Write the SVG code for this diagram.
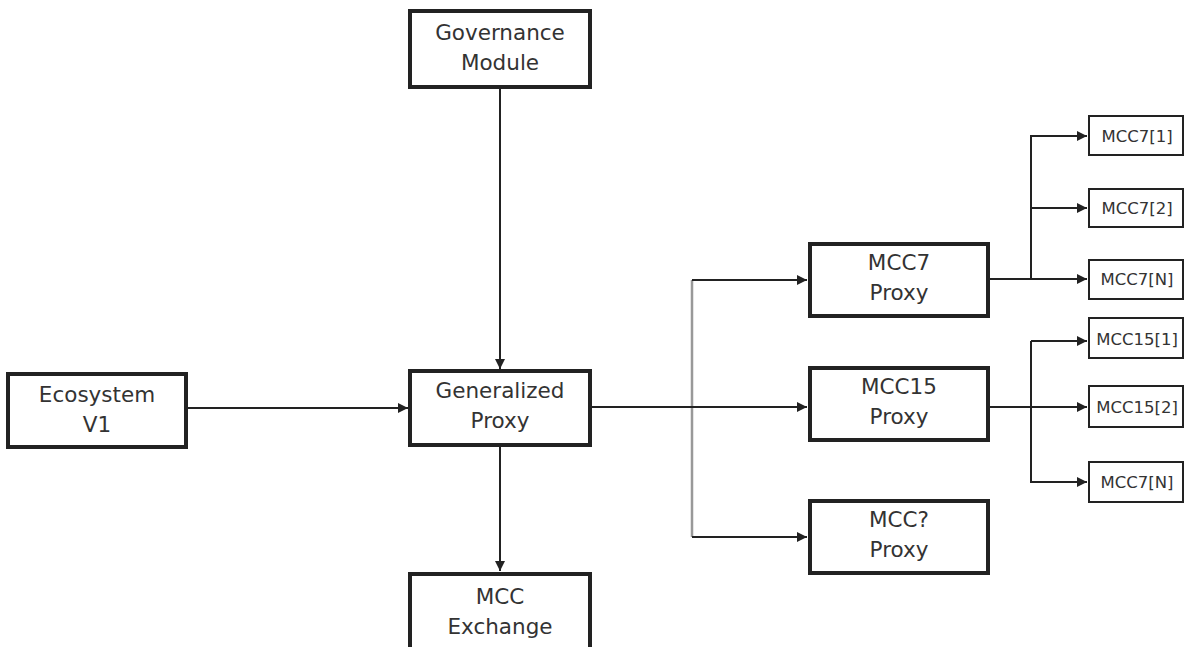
<svg xmlns="http://www.w3.org/2000/svg" width="1186" height="647" viewBox="0 0 1186 647">
<style>
.big{fill:#fff;stroke:#222;stroke-width:4}
.small{fill:#fff;stroke:#222;stroke-width:2}
.t{font-family:"DejaVu Sans",sans-serif;fill:#333;text-anchor:middle}
.tb{font-size:21.5px}
.ts{font-size:16.5px}
.c{fill:none;stroke:#222;stroke-width:2}
.g{fill:none;stroke:#999;stroke-width:2.5}
</style>
<defs>
<marker id="ah" viewBox="0 0 10 10" refX="10" refY="5" markerWidth="12" markerHeight="10" markerUnits="userSpaceOnUse" orient="auto">
<path d="M0,0 L10,5 L0,10 z" fill="#222"/>
</marker>
</defs>
<rect width="1186" height="647" fill="#fff"/>
<g id="connectors">
<path class="c" d="M500,88 V369" marker-end="url(#ah)"/>
<path class="c" d="M188,408 H408" marker-end="url(#ah)"/>
<path class="c" d="M500,446 V571" marker-end="url(#ah)"/>
<path class="g" d="M692,280 V537"/>
<path class="c" d="M692,280 H807" marker-end="url(#ah)"/>
<path class="c" d="M692,537 H807" marker-end="url(#ah)"/>
<path class="c" d="M592,407 H807" marker-end="url(#ah)"/>
<path class="c" d="M990,279 H1087" marker-end="url(#ah)"/>
<path class="c" d="M1031,279 V136 H1087" marker-end="url(#ah)"/>
<path class="c" d="M1031,208 H1087" marker-end="url(#ah)"/>
<path class="c" d="M990,407 H1087" marker-end="url(#ah)"/>
<path class="c" d="M1031,341 V482 H1087" marker-end="url(#ah)"/>
<path class="c" d="M1031,341 H1087" marker-end="url(#ah)"/>
</g>
<g id="governance">
<rect class="big" x="410" y="11" width="180" height="76"/>
<text class="t tb" x="500" y="40">Governance</text>
<text class="t tb" x="500" y="70">Module</text>
</g>
<g id="ecosystem">
<rect class="big" x="8" y="374" width="178" height="73"/>
<text class="t tb" x="97" y="402">Ecosystem</text>
<text class="t tb" x="97" y="432">V1</text>
</g>
<g id="generalized">
<rect class="big" x="410" y="371" width="180" height="74"/>
<text class="t tb" x="500" y="398">Generalized</text>
<text class="t tb" x="500" y="428">Proxy</text>
</g>
<g id="exchange">
<rect class="big" x="410" y="574" width="180" height="80"/>
<text class="t tb" x="500" y="604">MCC</text>
<text class="t tb" x="500" y="634">Exchange</text>
</g>
<g id="mcc7proxy">
<rect class="big" x="810" y="244" width="178" height="72"/>
<text class="t tb" x="899" y="270">MCC7</text>
<text class="t tb" x="899" y="300">Proxy</text>
</g>
<g id="mcc15proxy">
<rect class="big" x="810" y="368" width="178" height="72"/>
<text class="t tb" x="899" y="394">MCC15</text>
<text class="t tb" x="899" y="424">Proxy</text>
</g>
<g id="mccqproxy">
<rect class="big" x="810" y="501" width="178" height="72"/>
<text class="t tb" x="899" y="527">MCC?</text>
<text class="t tb" x="899" y="557">Proxy</text>
</g>
<g id="mcc7-1">
<rect class="small" x="1089" y="116" width="94" height="39"/>
<text class="t ts" x="1137" y="142">MCC7[1]</text>
</g>
<g id="mcc7-2">
<rect class="small" x="1089" y="189" width="94" height="38"/>
<text class="t ts" x="1137" y="214">MCC7[2]</text>
</g>
<g id="mcc7-n">
<rect class="small" x="1089" y="260" width="94" height="39"/>
<text class="t ts" x="1137" y="285">MCC7[N]</text>
</g>
<g id="mcc15-1">
<rect class="small" x="1089" y="318" width="94" height="40"/>
<text class="t ts" x="1137" y="345">MCC15[1]</text>
</g>
<g id="mcc15-2">
<rect class="small" x="1089" y="386" width="94" height="41"/>
<text class="t ts" x="1137" y="413">MCC15[2]</text>
</g>
<g id="mcc7-n2">
<rect class="small" x="1089" y="462" width="94" height="40"/>
<text class="t ts" x="1137" y="488">MCC7[N]</text>
</g>
</svg>
